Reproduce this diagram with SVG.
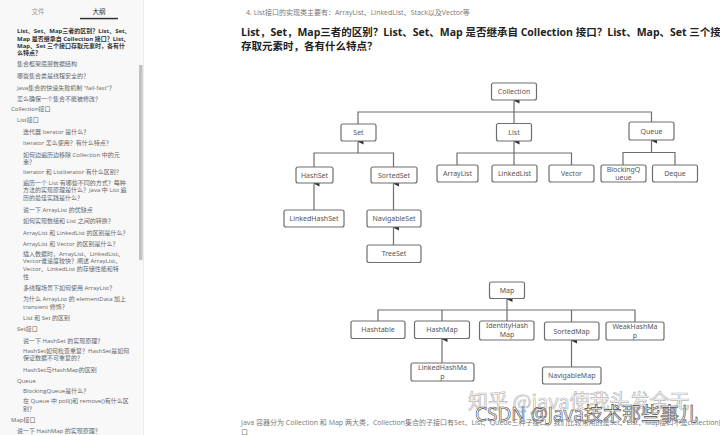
<svg xmlns="http://www.w3.org/2000/svg" width="720" height="435" viewBox="0 0 720 435">
<defs>
<style>
.sb{font-family:"Open Sans","Noto Sans CJK SC",sans-serif;font-size:6px;fill:#666}
.sbh{font-family:"Open Sans","Noto Sans CJK SC",sans-serif;font-size:6px;fill:#333;font-weight:bold}
.tab{font-family:"Noto Sans CJK SC",sans-serif;font-size:6.5px;fill:#999;text-anchor:middle}
.doc{font-family:"Open Sans","Noto Sans CJK SC",sans-serif;font-size:7px;fill:#777}
.h{font-family:"Open Sans","Noto Sans CJK SC",sans-serif;font-size:10.5px;fill:#222;font-weight:bold}
.box{fill:#fff;stroke:#6e6e6e;stroke-width:1.2}
.lbl{font-family:"Noto Sans","Noto Sans CJK SC",sans-serif;font-size:7px;fill:#555;text-anchor:middle}
.c{fill:none;stroke:#6e6e6e;stroke-width:1.2}
.wm1{font-family:"Noto Sans CJK SC",sans-serif;font-size:20px;fill:none;stroke:#b8b8b8;stroke-width:0.7}
.wm2{font-family:"Noto Sans","Noto Sans CJK SC",sans-serif;font-size:19px;fill:#fff;stroke:#444;stroke-width:0.6}
</style>
<marker id="ah" markerUnits="userSpaceOnUse" markerWidth="6" markerHeight="7" refX="3" refY="0.5" orient="auto-start-reverse" viewBox="0 0 6 7">
<path d="M0,6 L3,0 L6,6 Z" fill="#333"/>
</marker>
</defs>

<rect x="0" y="0" width="720" height="435" fill="#fff"/>

<!-- sidebar -->
<g id="sidebar">
<rect x="0" y="0" width="143.5" height="435" fill="#f8f8f8"/>
<line x1="143.5" y1="0" x2="143.5" y2="435" stroke="#ececec" stroke-width="1"/>
<rect x="139" y="65" width="3.5" height="195" fill="#c2c2c2"/>
<text class="tab" x="38" y="14">文件</text>
<text class="tab" x="99" y="14" style="fill:#333">大纲</text>
<rect x="80" y="17.8" width="38" height="1.5" fill="#333"/>
<text class="sbh" x="17" y="33">List、Set、Map三者的区别？List、Set、</text>
<text class="sbh" x="17" y="40.6">Map 是否继承自 Collection 接口？List、</text>
<text class="sbh" x="17" y="48">Map、Set 三个接口存取元素时，各有什</text>
<text class="sbh" x="17" y="55">么特点？</text>
<text class="sb" x="17" y="65.6">集合框架底层数据结构</text>
<text class="sb" x="17" y="77.6">哪些集合类是线程安全的？</text>
<text class="sb" x="17" y="89.6">Java集合的快速失败机制 “fail-fast”？</text>
<text class="sb" x="17" y="101">怎么确保一个集合不能被修改？</text>
<text class="sb" x="11" y="111.3">Collection接口</text>
<text class="sb" x="17" y="122.3">List接口</text>
<text class="sb" x="23" y="134">迭代器 Iterator 是什么？</text>
<text class="sb" x="23" y="145">Iterator 怎么使用？有什么特点？</text>
<text class="sb" x="23" y="156.6">如何边遍历边移除 Collection 中的元</text>
<text class="sb" x="23" y="164">素？</text>
<text class="sb" x="23" y="174">Iterator 和 ListIterator 有什么区别？</text>
<text class="sb" x="23" y="185">遍历一个 List 有哪些不同的方式？每种</text>
<text class="sb" x="23" y="192.3">方法的实现原理是什么？Java 中 List 遍</text>
<text class="sb" x="23" y="199.6">历的最佳实践是什么？</text>
<text class="sb" x="23" y="211.6">说一下 ArrayList 的优缺点</text>
<text class="sb" x="23" y="222.6">如何实现数组和 List 之间的转换？</text>
<text class="sb" x="23" y="234.6">ArrayList 和 LinkedList 的区别是什么？</text>
<text class="sb" x="23" y="245.6">ArrayList 和 Vector 的区别是什么？</text>
<text class="sb" x="23" y="255.6">插入数据时，ArrayList、LinkedList、</text>
<text class="sb" x="23" y="263.3">Vector谁速度较快？阐述 ArrayList、</text>
<text class="sb" x="23" y="271.3">Vector、LinkedList 的存储性能和特</text>
<text class="sb" x="23" y="279">性</text>
<text class="sb" x="23" y="289.6">多线程场景下如何使用 ArrayList？</text>
<text class="sb" x="23" y="301">为什么 ArrayList 的 elementData 加上</text>
<text class="sb" x="23" y="308.6">transient 修饰？</text>
<text class="sb" x="23" y="319.6">List 和 Set 的区别</text>
<text class="sb" x="17" y="330.6">Set接口</text>
<text class="sb" x="23" y="343">说一下 HashSet 的实现原理？</text>
<text class="sb" x="23" y="353">HashSet如何检查重复？HashSet是如何</text>
<text class="sb" x="23" y="360.3">保证数据不可重复的？</text>
<text class="sb" x="23" y="371.6">HashSet与HashMap的区别</text>
<text class="sb" x="17" y="383.3">Queue</text>
<text class="sb" x="23" y="393.3">BlockingQueue是什么？</text>
<text class="sb" x="23" y="403.3">在 Queue 中 poll()和 remove()有什么区</text>
<text class="sb" x="23" y="411.3">别？</text>
<text class="sb" x="11" y="422.3">Map接口</text>
<text class="sb" x="17" y="433.3">说一下 HashMap 的实现原理？</text>
</g>

<!-- document text -->
<g id="doc-text">
<text class="doc" x="246" y="15">4. List接口的实现类主要有：ArrayList、LinkedList、Stack以及Vector等</text>
<text class="h" x="241" y="36">List，Set，Map三者的区别？List、Set、Map 是否继承自 Collection 接口？List、Map、Set 三个接</text>
<text class="h" x="241" y="50">存取元素时，各有什么特点？</text>
</g>

<!-- connectors -->
<g id="connectors">
<line class="c" x1="514" y1="112" x2="514" y2="100.5" marker-end="url(#ah)"/>
<polyline class="c" points="358,124 358,112 651.5,112 651.5,122"/>
<line class="c" x1="514" y1="112" x2="514" y2="123.5"/>
<polyline class="c" points="314,167 314,153 393.5,153 393.5,167"/>
<line class="c" x1="358" y1="153" x2="358" y2="141.5" marker-end="url(#ah)"/>
<line class="c" x1="314" y1="210" x2="314" y2="183.5" marker-end="url(#ah)"/>
<line class="c" x1="393.5" y1="210" x2="393.5" y2="183.5" marker-end="url(#ah)"/>
<line class="c" x1="393.5" y1="245" x2="393.5" y2="227.5" marker-end="url(#ah)"/>
<polyline class="c" points="457,165 457,153 571.5,153 571.5,165"/>
<line class="c" x1="514" y1="165" x2="514" y2="141.5" marker-end="url(#ah)"/>
<polyline class="c" points="623,165 623,152.5 675,152.5 675,165"/>
<line class="c" x1="651.5" y1="152.5" x2="651.5" y2="140.5" marker-end="url(#ah)"/>
<polyline class="c" points="378,321 378,310 635,310 635,322"/>
<line class="c" x1="442" y1="310" x2="442" y2="321"/>
<line class="c" x1="571.5" y1="310" x2="571.5" y2="322"/>
<line class="c" x1="507" y1="321" x2="507" y2="299" marker-end="url(#ah)"/>
<line class="c" x1="442" y1="363" x2="442" y2="339" marker-end="url(#ah)"/>
<line class="c" x1="571.5" y1="367" x2="571.5" y2="340.5" marker-end="url(#ah)"/>
</g>

<!-- nodes -->
<g id="n-collection"><rect class="box" x="491.5" y="83" width="45" height="17" rx="2"/><text class="lbl" x="514" y="94">Collection</text></g>
<g id="n-set"><rect class="box" x="341" y="124" width="35" height="17" rx="2"/><text class="lbl" x="358.5" y="135">Set</text></g>
<g id="n-list"><rect class="box" x="496.5" y="123.5" width="35" height="17.5" rx="2"/><text class="lbl" x="514" y="134.8">List</text></g>
<g id="n-queue"><rect class="box" x="629" y="122" width="45" height="18" rx="2"/><text class="lbl" x="651.5" y="133.5">Queue</text></g>
<g id="n-hashset"><rect class="box" x="296" y="167" width="37" height="16" rx="2"/><text class="lbl" x="314.5" y="177.5">HashSet</text></g>
<g id="n-sortedset"><rect class="box" x="371" y="167" width="46" height="16" rx="2"/><text class="lbl" x="394" y="177.5">SortedSet</text></g>
<g id="n-linkedhashset"><rect class="box" x="284" y="210" width="60" height="17" rx="2"/><text class="lbl" x="314" y="221">LinkedHashSet</text></g>
<g id="n-navigableset"><rect class="box" x="367" y="210" width="54" height="17" rx="2"/><text class="lbl" x="394" y="221">NavigableSet</text></g>
<g id="n-treeset"><rect class="box" x="367" y="245" width="54" height="17.5" rx="2"/><text class="lbl" x="394" y="256.3">TreeSet</text></g>
<g id="n-arraylist"><rect class="box" x="437" y="165" width="41" height="17" rx="2"/><text class="lbl" x="457.5" y="175.5">ArrayList</text></g>
<g id="n-linkedlist"><rect class="box" x="492" y="165" width="45" height="17" rx="2"/><text class="lbl" x="514.5" y="176">LinkedList</text></g>
<g id="n-vector"><rect class="box" x="549" y="165" width="45" height="17" rx="2"/><text class="lbl" x="571.5" y="176">Vector</text></g>
<g id="n-blockingqueue"><rect class="box" x="601" y="165" width="45" height="17" rx="2"/><text class="lbl" x="623.5" y="171.5">BlockingQ</text><text class="lbl" x="623.5" y="180">ueue</text></g>
<g id="n-deque"><rect class="box" x="652.5" y="165" width="45" height="17" rx="2"/><text class="lbl" x="675" y="176">Deque</text></g>
<g id="n-map"><rect class="box" x="489.5" y="282" width="35" height="16.5" rx="2"/><text class="lbl" x="507" y="292.8">Map</text></g>
<g id="n-hashtable"><rect class="box" x="351" y="321" width="54" height="17.5" rx="2"/><text class="lbl" x="378" y="332.3">Hashtable</text></g>
<g id="n-hashmap"><rect class="box" x="414.5" y="321" width="55" height="17.5" rx="2"/><text class="lbl" x="442" y="332.3">HashMap</text></g>
<g id="n-identityhashmap"><rect class="box" x="479.5" y="321" width="54.5" height="19" rx="2"/><text class="lbl" x="507" y="328">IdentityHash</text><text class="lbl" x="507" y="337">Map</text></g>
<g id="n-sortedmap"><rect class="box" x="544.5" y="322" width="54.5" height="18" rx="2"/><text class="lbl" x="571.7" y="333.5">SortedMap</text></g>
<g id="n-weakhashmap"><rect class="box" x="606" y="322" width="58" height="18" rx="2"/><text class="lbl" x="635" y="329">WeakHashMa</text><text class="lbl" x="635" y="338">p</text></g>
<g id="n-linkedhashmap"><rect class="box" x="411" y="363" width="63" height="18" rx="2"/><text class="lbl" x="442.5" y="370">LinkedHashMa</text><text class="lbl" x="442.5" y="379">p</text></g>
<g id="n-navigablemap"><rect class="box" x="542.5" y="367" width="58.5" height="17" rx="2"/><text class="lbl" x="571.7" y="378">NavigableMap</text></g>

<g id="footer">
<text class="doc" x="241" y="425">Java 容器分为 Collection 和 Map 两大类，Collection集合的子接口有Set、List、Queue三种子接口，我们比较常用的是Set、List，Map接口不是collection的子接</text>
<text class="doc" x="241" y="434.5">口</text>
<text class="wm1" x="468" y="409">知乎 @java使我头发全无</text>
<text class="wm2" x="475" y="421">CSDN @Java技术那些事儿</text>
</g>
</svg>
